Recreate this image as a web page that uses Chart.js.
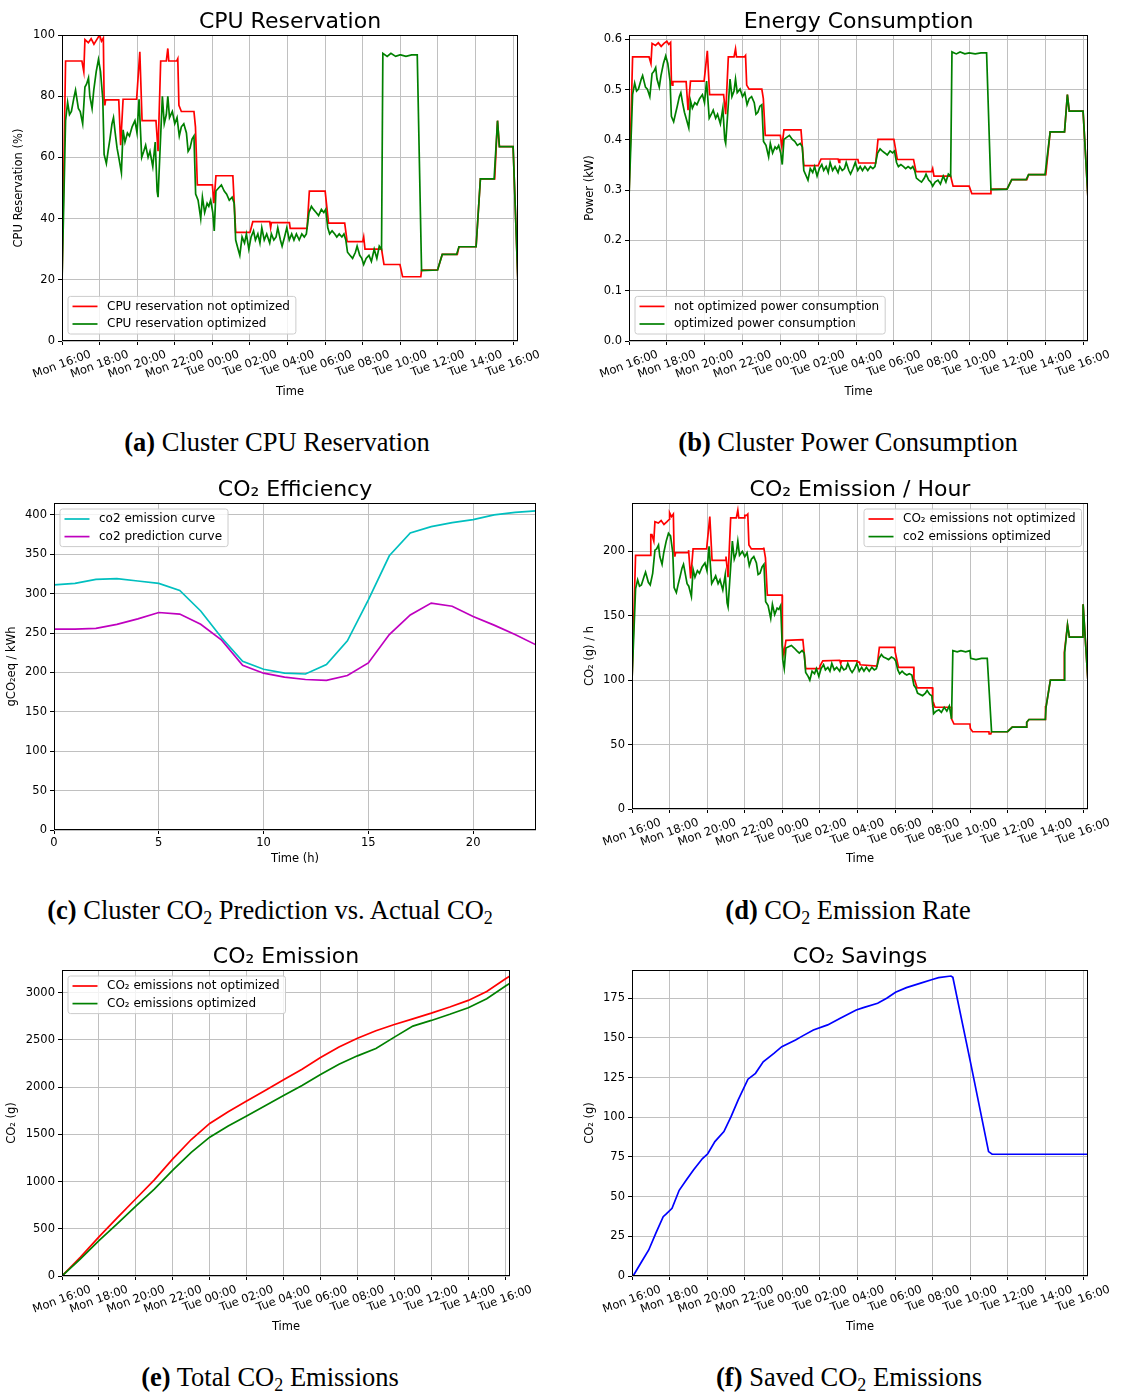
<!DOCTYPE html>
<html>
<head>
<meta charset="utf-8">
<script src="https://cdn.jsdelivr.net/npm/chart.js@4.4.1/dist/chart.umd.min.js"></script>
<style>
  body { margin: 0; background: #fff; width: 1121px; height: 1394px; position: relative; overflow: hidden; }
  canvas { position: absolute; }
  .cap { position: absolute; font-family: "Liberation Serif", "Times New Roman", serif; font-size: 26.5px;
         line-height: 26px; white-space: nowrap; transform: translateX(-50%); color: #000; }
  .cap sub { font-size: 18px; vertical-align: -5px; line-height: 0; }
</style>
</head>
<body>
<canvas id="cpu"></canvas>
<canvas id="power"></canvas>
<canvas id="eff"></canvas>
<canvas id="rate"></canvas>
<canvas id="total"></canvas>
<canvas id="saved"></canvas>

<div class="cap" style="left:277px;top:429px"><b>(a)</b> Cluster CPU Reservation</div>
<div class="cap" style="left:848px;top:429px"><b>(b)</b> Cluster Power Consumption</div>
<div class="cap" style="left:270px;top:897px"><b>(c)</b> Cluster CO<sub>2</sub> Prediction vs. Actual CO<sub>2</sub></div>
<div class="cap" style="left:848px;top:897px"><b>(d)</b> CO<sub>2</sub> Emission Rate</div>
<div class="cap" style="left:270px;top:1364px"><b>(e)</b> Total CO<sub>2</sub> Emissions</div>
<div class="cap" style="left:849px;top:1364px"><b>(f)</b> Saved CO<sub>2</sub> Emissions</div>

<script>
// time axis: hours after Mon 16:00
const timeTicks = ['Mon 16:00', 'Mon 18:00', 'Mon 20:00', 'Mon 22:00', 'Tue 00:00', 'Tue 02:00', 'Tue 04:00',
  'Tue 06:00', 'Tue 08:00', 'Tue 10:00', 'Tue 12:00', 'Tue 14:00', 'Tue 16:00'];
const timeTickVals = [0, 2, 4, 6, 8, 10, 12, 14, 16, 18, 20, 22, 24];
const hourTickVals = [0, 5, 10, 15, 20];

const cpuTicks = [0, 20, 40, 60, 80, 100];
const powTicks = [0, 0.1, 0.2, 0.3, 0.4, 0.5, 0.6];
const effTicks = [0, 50, 100, 150, 200, 250, 300, 350, 400];
const rateTicks = [0, 50, 100, 150, 200];
const totTicks = [0, 500, 1000, 1500, 2000, 2500, 3000];
const saveTicks = [0, 25, 50, 75, 100, 125, 150, 175];

// (a)/(b) not optimized, step series
const redT = [0, 0.19, 1.06, 1.16, 1.22, 1.40, 1.55, 1.70, 1.85, 2.00,
  2.10, 2.20, 2.24, 2.28, 2.32, 3.02, 3.12, 3.25, 3.97, 4.14,
  4.26, 5.00, 5.11, 5.25, 5.55, 5.63, 5.68, 6.10, 6.16, 6.22,
  6.35, 7.02, 7.10, 7.20, 8.00, 8.08, 8.19, 9.09, 9.24, 10.00,
  10.15, 11.05, 11.10, 11.14, 12.10, 12.14, 13.04, 13.16, 14.00, 14.18,
  15.04, 15.17, 16.00, 16.05, 16.12, 17.00, 17.13, 17.98, 18.12, 19.09,
  19.13, 19.98, 20.23, 21.03, 21.12, 22.03, 22.26, 23.02, 23.17, 23.27,
  24.00, 24.26];
const cpuRed = [18.8, 91.5, 91.5, 88, 98.5, 97.5, 98.8, 97, 98.5, 100,
  98, 99, 79, 77, 78.8, 78.8, 64, 79, 79, 94.5,
  72, 72, 62, 91.5, 91.5, 95.6, 91.5, 91.5, 92.3, 77,
  75, 75, 70, 51, 51, 45, 54, 54, 35.5, 35.5,
  39, 39, 37, 38.7, 38.7, 36.8, 36.8, 49, 49, 38.5,
  38.5, 32.5, 32.5, 34, 30, 30, 25, 25, 21, 21,
  23.2, 23.2, 28.3, 28.3, 30.8, 30.8, 53, 53, 72, 63.5,
  63.5, 18.5];
const powRed = [0.285, 0.565, 0.565, 0.552, 0.592, 0.588, 0.593, 0.586, 0.592, 0.596,
  0.590, 0.594, 0.517, 0.509, 0.516, 0.516, 0.459, 0.517, 0.517, 0.577,
  0.490, 0.490, 0.451, 0.565, 0.565, 0.581, 0.565, 0.565, 0.568, 0.509,
  0.501, 0.501, 0.482, 0.409, 0.409, 0.386, 0.420, 0.420, 0.349, 0.349,
  0.362, 0.362, 0.355, 0.361, 0.361, 0.354, 0.354, 0.401, 0.401, 0.361,
  0.361, 0.337, 0.337, 0.343, 0.328, 0.328, 0.308, 0.308, 0.293, 0.293,
  0.302, 0.302, 0.321, 0.321, 0.331, 0.331, 0.416, 0.416, 0.490, 0.457,
  0.457, 0.283];

// (a)/(b)/(d) optimized, noisy series
const greenT = [0, 0.19, 0.30, 0.40, 0.50, 0.65, 0.72, 0.87, 0.97, 1.10,
  1.22, 1.31, 1.41, 1.48, 1.60, 1.69, 1.82, 1.94, 2.05, 2.17,
  2.24, 2.36, 2.45, 2.55, 2.66, 2.74, 2.83, 2.93, 3.02, 3.16,
  3.25, 3.35, 3.48, 3.59, 3.73, 3.88, 3.99, 4.10, 4.24, 4.35,
  4.45, 4.58, 4.68, 4.83, 4.96, 5.06, 5.11, 5.20, 5.34, 5.44,
  5.55, 5.63, 5.72, 5.87, 6.00, 6.12, 6.24, 6.35, 6.48, 6.62,
  6.71, 6.81, 6.92, 7.02, 7.11, 7.24, 7.38, 7.47, 7.59, 7.72,
  7.81, 7.91, 8.02, 8.10, 8.19, 8.33, 8.48, 8.63, 8.76, 8.90,
  9.05, 9.16, 9.24, 9.37, 9.46, 9.58, 9.71, 9.81, 9.94, 10.06,
  10.19, 10.29, 10.42, 10.53, 10.63, 10.76, 10.89, 11.05, 11.14, 11.27,
  11.39, 11.48, 11.62, 11.71, 11.84, 11.96, 12.09, 12.22, 12.34, 12.47,
  12.62, 12.76, 12.89, 13.00, 13.14, 13.27, 13.38, 13.52, 13.65, 13.80,
  13.93, 14.03, 14.14, 14.24, 14.37, 14.51, 14.62, 14.75, 14.89, 15.00,
  15.10, 15.19, 15.32, 15.46, 15.61, 15.70, 15.84, 15.95, 16.05, 16.18,
  16.33, 16.46, 16.61, 16.75, 16.88, 17.00, 17.07, 17.30, 17.50, 17.75,
  17.98, 18.02, 18.30, 18.60, 18.90, 19.13, 19.98, 20.23, 20.99, 21.00,
  21.12, 21.99, 22.03, 22.26, 22.99, 23.02, 23.17, 23.27, 23.99, 24.00,
  24.26];
const cpuGreen = [18.8, 72, 78, 74, 75, 80, 82, 76, 75, 71,
  83, 84, 86, 80, 76, 82, 88, 92, 88, 79,
  61, 58, 62, 66, 71, 73, 68, 63, 60, 55,
  69, 65, 68, 67, 70, 72, 68, 79, 60, 62,
  64, 60, 62, 57, 65, 49, 47, 60, 80, 71,
  74, 80, 73, 75, 71, 73, 67, 70, 71, 68,
  62, 63, 66, 67, 48, 46, 40, 47, 42, 45,
  44, 46, 42, 36, 49, 50, 51, 49, 48, 46,
  47, 45, 33, 30, 28, 34, 32, 35, 30, 34,
  36, 33, 35, 32, 37, 33, 35, 32, 35, 33,
  34, 37, 33, 31, 34, 37, 33, 35, 33, 35,
  33, 35, 34, 35, 42, 44, 43, 42, 41, 43,
  42, 43, 37, 35, 36, 35, 34, 35, 34, 35,
  33, 29, 28, 27, 29, 31, 28, 27, 25, 27,
  28, 26, 30, 27, 31, 30, 94, 93, 94, 93,
  93.5, 93.5, 93, 93.5, 93.5, 23, 23.2, 28.3, 28.3, 28.3,
  30.8, 30.8, 30.8, 53, 53, 53, 72, 63.5, 63.5, 63.5,
  18.5];
const powGreen = [0.285, 0.490, 0.513, 0.497, 0.501, 0.521, 0.528, 0.505, 0.501, 0.486,
  0.532, 0.536, 0.544, 0.521, 0.505, 0.528, 0.552, 0.567, 0.552, 0.517,
  0.447, 0.436, 0.451, 0.467, 0.486, 0.494, 0.474, 0.455, 0.443, 0.424,
  0.478, 0.463, 0.474, 0.470, 0.482, 0.490, 0.474, 0.517, 0.443, 0.451,
  0.459, 0.443, 0.451, 0.432, 0.463, 0.401, 0.393, 0.443, 0.521, 0.486,
  0.497, 0.521, 0.494, 0.501, 0.486, 0.494, 0.470, 0.482, 0.486, 0.474,
  0.451, 0.455, 0.467, 0.470, 0.397, 0.389, 0.366, 0.393, 0.374, 0.386,
  0.382, 0.389, 0.374, 0.351, 0.401, 0.405, 0.409, 0.401, 0.397, 0.389,
  0.393, 0.386, 0.339, 0.328, 0.320, 0.343, 0.335, 0.347, 0.328, 0.343,
  0.351, 0.339, 0.347, 0.335, 0.355, 0.339, 0.347, 0.335, 0.347, 0.339,
  0.343, 0.355, 0.339, 0.332, 0.343, 0.355, 0.339, 0.347, 0.339, 0.347,
  0.339, 0.347, 0.343, 0.347, 0.374, 0.382, 0.378, 0.374, 0.370, 0.378,
  0.374, 0.378, 0.355, 0.347, 0.351, 0.347, 0.343, 0.347, 0.343, 0.347,
  0.339, 0.324, 0.320, 0.316, 0.324, 0.332, 0.320, 0.316, 0.308, 0.316,
  0.320, 0.312, 0.328, 0.316, 0.332, 0.328, 0.575, 0.571, 0.575, 0.571,
  0.573, 0.573, 0.571, 0.573, 0.573, 0.301, 0.302, 0.321, 0.321, 0.321,
  0.331, 0.331, 0.331, 0.416, 0.416, 0.416, 0.490, 0.457, 0.457, 0.457,
  0.283];
const co2Green = [99, 171, 178, 173, 174, 181, 184, 176, 174, 183,
  201, 202, 205, 196, 190, 199, 208, 214, 212, 199,
  172, 168, 174, 180, 187, 190, 183, 175, 173, 165,
  186, 180, 185, 183, 188, 191, 185, 204, 175, 178,
  181, 175, 178, 170, 182, 160, 157, 177, 208, 194,
  199, 208, 197, 200, 196, 199, 189, 194, 196, 191,
  182, 183, 188, 190, 161, 158, 148, 159, 151, 156,
  155, 158, 116, 109, 125, 126, 127, 125, 123, 121,
  123, 121, 106, 103, 100, 107, 105, 109, 103, 109,
  112, 108, 110, 107, 113, 108, 110, 107, 111, 108,
  109, 113, 108, 106, 109, 113, 107, 110, 107, 110,
  107, 110, 108, 109, 117, 120, 118, 117, 116, 118,
  117, 115, 108, 105, 107, 105, 104, 105, 104, 96,
  94, 90, 89, 88, 90, 92, 89, 88, 74, 76,
  77, 75, 79, 76, 80, 70, 123, 122, 123, 122,
  123, 117, 116, 117, 117, 60, 60, 63.6, 63.6, 67.4,
  69.5, 69.5, 79.4, 100, 100, 121.5, 143, 133.4, 133.4, 159,
  98.5];

// (d) not optimized
const co2RedT = [0, 0.19, 0.99, 1.00, 1.06, 1.16, 1.22, 1.40, 1.55, 1.70,
  1.85, 1.99, 2.00, 2.10, 2.20, 2.24, 2.28, 2.32, 2.99, 3.00,
  3.02, 3.12, 3.25, 3.97, 4.14, 4.26, 4.99, 5.00, 5.11, 5.25,
  5.55, 5.63, 5.68, 5.99, 6.00, 6.10, 6.16, 6.22, 6.35, 6.99,
  7.00, 7.02, 7.10, 7.20, 7.99, 8.00, 8.08, 8.19, 9.09, 9.24,
  9.99, 10.00, 10.15, 11.05, 11.10, 11.14, 11.99, 12.00, 12.10, 12.14,
  13.04, 13.16, 13.99, 14.00, 14.18, 14.99, 15.00, 15.04, 15.17, 15.99,
  16.00, 16.05, 16.12, 16.99, 17.00, 17.13, 17.98, 18.00, 18.12, 18.99,
  19.00, 19.09, 19.13, 19.98, 20.23, 20.99, 21.00, 21.12, 21.99, 22.00,
  22.03, 22.26, 22.99, 23.00, 23.17, 23.27, 23.99, 24.00, 24.26];
const co2Red = [99, 197, 197, 213, 213, 208, 223, 222, 224, 221,
  223, 225, 230, 227, 229, 199, 196, 199, 199, 201,
  201, 179, 202, 202, 227, 193, 193, 196, 180, 226,
  226, 232, 226, 226, 228, 228, 229, 205, 202, 202,
  203, 203, 195, 166, 166, 127, 120, 131, 131.5, 109,
  109, 111, 115, 115.5, 113, 115, 115, 114, 114, 112,
  111, 125.5, 125.5, 122, 110, 110, 100, 100, 94, 94,
  81, 82, 79, 79, 70, 66, 66, 62.5, 60, 60,
  58.3, 58.3, 60, 60, 63.6, 63.6, 67.4, 69.5, 69.5, 79.4,
  79.4, 100, 100, 121.5, 143, 133.4, 133.4, 159, 98.5];

// (c) hourly intensity
const hours = [0, 1, 2, 3, 4, 5, 6, 7, 8, 9, 10, 11, 12, 13, 14, 15, 16, 17, 18, 19, 20, 21, 22, 23];
const co2Curve = [311, 313, 318, 319, 316, 313, 304, 278, 244, 214, 204, 199, 198, 210, 240, 292, 348, 377, 385, 390, 394, 400, 403, 405];
const co2Pred = [255, 255, 256, 261, 268, 276, 274, 261, 241, 209, 199, 194, 191, 190, 196, 212, 248, 273, 288, 284, 271, 260, 248, 235];

// (e) cumulative
const totT = [0, 1, 2, 3, 4, 5, 6, 7, 8, 9, 10, 11, 12, 13, 14, 15, 16, 17, 18, 19, 20, 21, 22, 23, 24, 24.26];
const totRed = [0, 200, 415, 618, 818, 1018, 1240, 1445, 1615, 1740, 1852, 1965, 2078, 2190, 2313, 2424, 2518, 2597, 2663, 2723, 2783, 2848, 2918, 3012, 3145, 3177];
const totGreen = [0, 182, 374, 554, 741, 920, 1120, 1310, 1470, 1589, 1695, 1803, 1910, 2018, 2134, 2241, 2331, 2408, 2529, 2646, 2706, 2771, 2841, 2935, 3068, 3100];

// (f) savings
const saveT = [0.06, 0.51, 0.89, 1.27, 1.66, 1.81, 2.13, 2.51, 2.89, 3.27, 3.75, 4.03, 4.41, 4.89, 5.27, 5.65, 6.17, 6.57, 6.98, 7.55,
  7.97, 8.7, 9.08, 9.65, 10.41, 11.08, 11.93, 12.31, 13.07, 13.55, 14.02, 14.6, 15.36, 16.02, 16.31, 16.97, 17.07, 18.02, 18.97, 19.16, 24.26];
const saveV = [0, 9, 16.4, 27, 37.4, 39, 42.6, 54, 60.5, 66.8, 74, 77, 84.7, 91, 100.4, 111, 124, 127.7, 135, 140.3,
  144.5, 148.7, 151.3, 155, 158.2, 162.4, 167.6, 169.1, 171.8, 175, 178.8, 181.7, 184.5, 187, 188, 189, 188.2, 134, 78.4, 76.7, 76.7];

const FONT = '"DejaVu Sans", sans-serif';
const SMALL = 11.5;
const LEGEND = 12;
const GRID = '#c0c0c0';

function pts(xs, ys) {
  return xs.map((x, i) => ({ x, y: ys[i] }));
}

function line(label, color, xs, ys, order) {
  return { label, data: pts(xs, ys), borderColor: color, backgroundColor: color, order };
}

// frame, title, rotated x labels and an in-axes legend, drawn like matplotlib
const mplDecor = {
  id: 'mplDecor',
  afterDatasetsDraw(chart, args, o) {
    const ctx = chart.ctx;
    const a = chart.chartArea;
    ctx.save();
    ctx.strokeStyle = '#000';
    ctx.lineWidth = 1;
    ctx.strokeRect(a.left + 0.5, a.top + 0.5, a.right - a.left - 1, a.bottom - a.top - 1);

    ctx.fillStyle = '#000';
    ctx.font = `22px ${FONT}`;
    ctx.textAlign = 'center';
    ctx.textBaseline = 'alphabetic';
    ctx.fillText(o.title, (a.left + a.right) / 2, a.top - 7);

    const sx = chart.scales.x;
    const th = o.rot * Math.PI / 180;
    ctx.font = `${SMALL}px ${FONT}`;
    sx.ticks.forEach((t) => {
      const text = o.xFmt(t.value);
      const w = ctx.measureText(text).width;
      const bh = w * Math.sin(th) + 13 * Math.cos(th);
      ctx.save();
      ctx.translate(sx.getPixelForValue(t.value), a.bottom + 7 + bh / 2);
      ctx.rotate(-th);
      ctx.textAlign = 'center';
      ctx.textBaseline = 'middle';
      ctx.fillText(text, 0, 0);
      ctx.restore();
    });

    if (o.legend) {
      const ds = chart.data.datasets;
      ctx.font = `${LEGEND}px ${FONT}`;
      const tw = Math.max(...ds.map(d => ctx.measureText(d.label).width));
      const bw = 39 + tw + 6;
      const bh = 20 + (ds.length - 1) * 17.6;
      let x = a.left + 6;
      let y = a.bottom - 7 - bh;
      if (o.legend === 'ul') y = a.top + 6;
      if (o.legend === 'ur') { x = a.right - 6.5 - bw; y = a.top + 6; }
      ctx.beginPath();
      if (ctx.roundRect) ctx.roundRect(x, y, bw, bh, 2.5); else ctx.rect(x, y, bw, bh);
      ctx.fillStyle = 'rgba(255,255,255,0.8)';
      ctx.fill();
      ctx.strokeStyle = '#cccccc';
      ctx.lineWidth = 1;
      ctx.stroke();
      ds.forEach((d, i) => {
        const cy = y + 10 + i * 17.6;
        ctx.strokeStyle = d.borderColor;
        ctx.lineWidth = 1.7;
        ctx.beginPath();
        ctx.moveTo(x + 4.5, cy);
        ctx.lineTo(x + 29.5, cy);
        ctx.stroke();
        ctx.fillStyle = '#000';
        ctx.textAlign = 'left';
        ctx.textBaseline = 'middle';
        ctx.fillText(d.label, x + 39, cy);
      });
    }
    ctx.restore();
  },
};

// box: canvas [x, y, w, h]; plot: [left, right, top, bottom] in page pixels
function makeChart(id, box, plot, datasets, o) {
  const cv = document.getElementById(id);
  cv.width = box[2];
  cv.height = box[3];
  cv.style.left = box[0] + 'px';
  cv.style.top = box[1] + 'px';
  const axisFont = { family: FONT, size: SMALL };
  const grid = { color: GRID, lineWidth: 1, tickColor: '#000', tickLength: 4, tickWidth: 1 };
  return new Chart(cv, {
    type: 'line',
    data: { datasets },
    plugins: [mplDecor],
    options: {
      responsive: false,
      animation: false,
      devicePixelRatio: 1,
      layout: { padding: { left: 0, top: plot[2] - box[1], right: box[0] + box[2] - plot[1], bottom: 0 } },
      elements: { point: { radius: 0 }, line: { borderWidth: 1.7, tension: 0 } },
      plugins: { legend: { display: false }, tooltip: { enabled: false }, mplDecor: o },
      scales: {
        x: {
          type: 'linear',
          min: o.xMin,
          max: o.xMax,
          ticks: { display: false },
          afterBuildTicks: (s) => { s.ticks = o.xTicks.map(v => ({ value: v })); },
          grid,
          border: { display: false },
          title: { display: true, text: o.xTitle, color: '#000', font: axisFont, padding: { top: 0, bottom: o.xTitlePad } },
          afterFit: (s) => { s.height = box[1] + box[3] - plot[3]; },
        },
        y: {
          type: 'linear',
          min: o.yMin,
          max: o.yMax,
          ticks: { color: '#000', font: axisFont, padding: 3, callback: o.yFmt },
          afterBuildTicks: (s) => { s.ticks = o.yTicks.map(v => ({ value: v })); },
          grid,
          border: { display: false },
          title: { display: true, text: o.yTitle, color: '#000', font: axisFont, padding: { top: o.yTitlePad, bottom: 0 } },
          afterFit: (s) => { s.width = plot[0] - box[0]; },
        },
      },
    },
  });
}

const timeFmt = v => timeTicks[Math.round(v / 2)];
const plain = v => String(v);
const timeAxis = { xMin: 0, xMax: 24.26, xTicks: timeTickVals, xFmt: timeFmt, rot: 20, xTitle: 'Time' };

makeChart('cpu', [0, 0, 560, 410], [62, 518, 35, 341], [
  line('CPU reservation not optimized', '#ff0000', redT, cpuRed, 1),
  line('CPU reservation optimized', '#008000', greenT, cpuGreen, 0),
], { ...timeAxis, title: 'CPU Reservation', legend: 'll', xTitlePad: 11,
  yMin: 0, yMax: 100, yTicks: cpuTicks, yFmt: plain, yTitle: 'CPU Reservation (%)', yTitlePad: 12.6 });

makeChart('power', [560, 0, 561, 410], [629, 1088, 35, 341], [
  line('not optimized power consumption', '#ff0000', redT, powRed, 1),
  line('optimized power consumption', '#008000', greenT, powGreen, 0),
], { ...timeAxis, title: 'Energy Consumption', legend: 'll', xTitlePad: 11,
  yMin: 0, yMax: 0.6086, yTicks: powTicks, yFmt: v => v.toFixed(1), yTitle: 'Power (kW)', yTitlePad: 23 });

makeChart('eff', [0, 465, 560, 410], [54, 536, 503, 830], [
  line('co2 emission curve', '#00bfbf', hours, co2Curve, 0),
  line('co2 prediction curve', '#bf00bf', hours, co2Pred, 1),
], { title: 'CO₂ Efficiency', legend: 'ul', xMin: 0, xMax: 23, xTicks: hourTickVals, xFmt: plain, rot: 0,
  xTitle: 'Time (h)', xTitlePad: 9, yMin: 0, yMax: 415, yTicks: effTicks, yFmt: plain,
  yTitle: 'gCO₂eq / kWh', yTitlePad: 5.6 });

makeChart('rate', [560, 465, 561, 410], [632, 1088, 503, 809], [
  line('CO₂ emissions not optimized', '#ff0000', co2RedT, co2Red, 1),
  line('co2 emissions optimized', '#008000', greenT, co2Green, 0),
], { ...timeAxis, title: 'CO₂ Emission / Hour', legend: 'ur', xTitlePad: 9,
  yMin: 0, yMax: 237.6, yTicks: rateTicks, yFmt: plain, yTitle: 'CO₂ (g) / h', yTitlePad: 23 });

makeChart('total', [0, 935, 560, 410], [62, 510, 970, 1276], [
  line('CO₂ emissions not optimized', '#ff0000', totT, totRed, 1),
  line('CO₂ emissions optimized', '#008000', totT, totGreen, 0),
], { ...timeAxis, title: 'CO₂ Emission', legend: 'ul', xTitlePad: 11.4,
  yMin: 0, yMax: 3240, yTicks: totTicks, yFmt: plain, yTitle: 'CO₂ (g)', yTitlePad: 5.1 });

makeChart('saved', [560, 935, 561, 410], [632, 1088, 970, 1276], [
  line('CO₂ savings', '#0000ff', saveT, saveV, 0),
], { ...timeAxis, title: 'CO₂ Savings', legend: null, xTitlePad: 11.4,
  yMin: 0, yMax: 192.8, yTicks: saveTicks, yFmt: plain, yTitle: 'CO₂ (g)', yTitlePad: 23 });
</script>
</body>
</html>
